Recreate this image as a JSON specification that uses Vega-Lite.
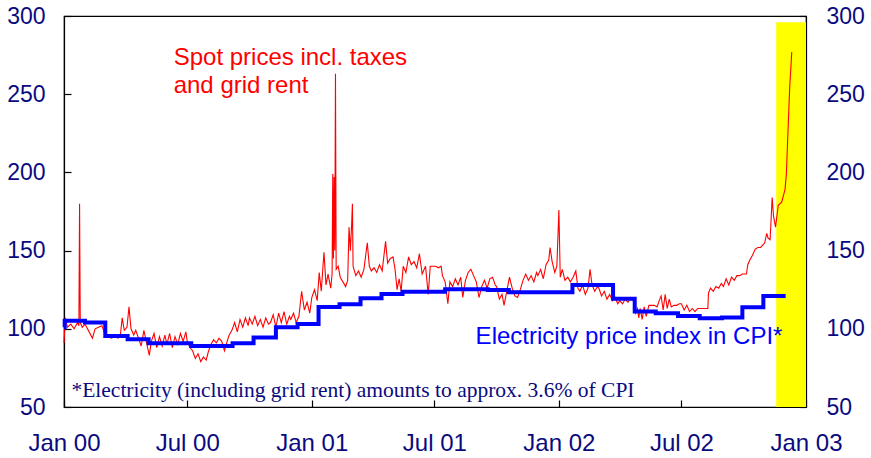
{
  "$schema": "https://vega.github.io/schema/vega-lite/v6.json",
  "width": 742,
  "height": 391,
  "autosize": {"type": "none"},
  "padding": {"left": 64, "top": 16, "right": 65, "bottom": 51},
  "background": "#ffffff",
  "config": {
    "view": {"stroke": "#000000", "strokeWidth": 1.2},
    "font": "Liberation Sans",
    "axis": {"grid": false, "title": null, "domainColor": "#000000", "tickColor": "#000000", "domainWidth": 1.2, "tickWidth": 1.2, "labelFont": "Liberation Sans", "labelFontSize": 23, "labelColor": "#0a0a80"}
  },
  "datasets": {
    "spot": [
      {"d": "2000-01-01", "v": 91}, {"d": "2000-01-03", "v": 107}, {"d": "2000-01-06", "v": 101}, {"d": "2000-01-11", "v": 103}, {"d": "2000-01-16", "v": 100}, {"d": "2000-01-21", "v": 104}, {"d": "2000-01-23", "v": 102}, {"d": "2000-01-24", "v": 180}, {"d": "2000-01-25", "v": 104}, {"d": "2000-01-28", "v": 101},
      {"d": "2000-02-01", "v": 103}, {"d": "2000-02-06", "v": 99}, {"d": "2000-02-12", "v": 94}, {"d": "2000-02-16", "v": 100}, {"d": "2000-02-21", "v": 101}, {"d": "2000-02-26", "v": 102},
      {"d": "2000-03-01", "v": 97}, {"d": "2000-03-06", "v": 95}, {"d": "2000-03-11", "v": 94}, {"d": "2000-03-16", "v": 95}, {"d": "2000-03-21", "v": 94}, {"d": "2000-03-24", "v": 95}, {"d": "2000-03-27", "v": 107}, {"d": "2000-03-30", "v": 99},
      {"d": "2000-04-03", "v": 101}, {"d": "2000-04-06", "v": 114}, {"d": "2000-04-09", "v": 100}, {"d": "2000-04-13", "v": 96}, {"d": "2000-04-16", "v": 99}, {"d": "2000-04-20", "v": 94}, {"d": "2000-04-24", "v": 89}, {"d": "2000-04-28", "v": 99},
      {"d": "2000-05-01", "v": 93}, {"d": "2000-05-06", "v": 83}, {"d": "2000-05-09", "v": 92}, {"d": "2000-05-13", "v": 97}, {"d": "2000-05-17", "v": 88}, {"d": "2000-05-21", "v": 95}, {"d": "2000-05-25", "v": 89}, {"d": "2000-05-29", "v": 96},
      {"d": "2000-06-01", "v": 90}, {"d": "2000-06-05", "v": 97}, {"d": "2000-06-09", "v": 88}, {"d": "2000-06-13", "v": 95}, {"d": "2000-06-17", "v": 90}, {"d": "2000-06-21", "v": 97}, {"d": "2000-06-25", "v": 92}, {"d": "2000-06-29", "v": 98},
      {"d": "2000-07-01", "v": 92}, {"d": "2000-07-05", "v": 88}, {"d": "2000-07-09", "v": 86}, {"d": "2000-07-13", "v": 81}, {"d": "2000-07-17", "v": 84}, {"d": "2000-07-21", "v": 79}, {"d": "2000-07-25", "v": 82}, {"d": "2000-07-29", "v": 80},
      {"d": "2000-08-01", "v": 85}, {"d": "2000-08-05", "v": 90}, {"d": "2000-08-09", "v": 93}, {"d": "2000-08-13", "v": 91}, {"d": "2000-08-17", "v": 94}, {"d": "2000-08-21", "v": 92}, {"d": "2000-08-25", "v": 86}, {"d": "2000-08-29", "v": 92},
      {"d": "2000-09-01", "v": 96}, {"d": "2000-09-05", "v": 99}, {"d": "2000-09-09", "v": 104}, {"d": "2000-09-13", "v": 98}, {"d": "2000-09-17", "v": 106}, {"d": "2000-09-21", "v": 101}, {"d": "2000-09-25", "v": 107}, {"d": "2000-09-29", "v": 102},
      {"d": "2000-10-01", "v": 107}, {"d": "2000-10-05", "v": 103}, {"d": "2000-10-09", "v": 108}, {"d": "2000-10-13", "v": 102}, {"d": "2000-10-17", "v": 106}, {"d": "2000-10-21", "v": 101}, {"d": "2000-10-25", "v": 107}, {"d": "2000-10-29", "v": 103},
      {"d": "2000-11-01", "v": 104}, {"d": "2000-11-05", "v": 109}, {"d": "2000-11-09", "v": 101}, {"d": "2000-11-13", "v": 110}, {"d": "2000-11-17", "v": 104}, {"d": "2000-11-21", "v": 111}, {"d": "2000-11-25", "v": 103}, {"d": "2000-11-29", "v": 108},
      {"d": "2000-12-01", "v": 106}, {"d": "2000-12-05", "v": 110}, {"d": "2000-12-09", "v": 104}, {"d": "2000-12-13", "v": 108}, {"d": "2000-12-17", "v": 124}, {"d": "2000-12-21", "v": 112}, {"d": "2000-12-25", "v": 117}, {"d": "2000-12-29", "v": 110},
      {"d": "2001-01-01", "v": 120}, {"d": "2001-01-05", "v": 125}, {"d": "2001-01-09", "v": 118}, {"d": "2001-01-12", "v": 136}, {"d": "2001-01-15", "v": 124}, {"d": "2001-01-19", "v": 149}, {"d": "2001-01-22", "v": 128}, {"d": "2001-01-25", "v": 135}, {"d": "2001-01-29", "v": 126}, {"d": "2001-01-31", "v": 135},
      {"d": "2001-02-01", "v": 199}, {"d": "2001-02-02", "v": 145}, {"d": "2001-02-03", "v": 197}, {"d": "2001-02-04", "v": 150}, {"d": "2001-02-05", "v": 263}, {"d": "2001-02-06", "v": 138}, {"d": "2001-02-09", "v": 140}, {"d": "2001-02-12", "v": 133}, {"d": "2001-02-16", "v": 130}, {"d": "2001-02-20", "v": 127}, {"d": "2001-02-23", "v": 131}, {"d": "2001-02-25", "v": 165}, {"d": "2001-02-27", "v": 150},
      {"d": "2001-03-01", "v": 168}, {"d": "2001-03-02", "v": 180}, {"d": "2001-03-03", "v": 140}, {"d": "2001-03-07", "v": 134}, {"d": "2001-03-11", "v": 137}, {"d": "2001-03-15", "v": 133}, {"d": "2001-03-19", "v": 138}, {"d": "2001-03-24", "v": 155}, {"d": "2001-03-27", "v": 140}, {"d": "2001-03-30", "v": 137},
      {"d": "2001-04-03", "v": 139}, {"d": "2001-04-07", "v": 136}, {"d": "2001-04-11", "v": 141}, {"d": "2001-04-15", "v": 137}, {"d": "2001-04-20", "v": 156}, {"d": "2001-04-23", "v": 142}, {"d": "2001-04-27", "v": 145},
      {"d": "2001-05-01", "v": 146}, {"d": "2001-05-04", "v": 138}, {"d": "2001-05-07", "v": 125}, {"d": "2001-05-10", "v": 132}, {"d": "2001-05-13", "v": 124}, {"d": "2001-05-16", "v": 140}, {"d": "2001-05-20", "v": 136}, {"d": "2001-05-24", "v": 146}, {"d": "2001-05-28", "v": 141},
      {"d": "2001-06-01", "v": 143}, {"d": "2001-06-05", "v": 139}, {"d": "2001-06-09", "v": 148}, {"d": "2001-06-13", "v": 135}, {"d": "2001-06-18", "v": 140}, {"d": "2001-06-22", "v": 122}, {"d": "2001-06-25", "v": 140}, {"d": "2001-06-29", "v": 140},
      {"d": "2001-07-03", "v": 140}, {"d": "2001-07-07", "v": 139}, {"d": "2001-07-11", "v": 140}, {"d": "2001-07-13", "v": 134}, {"d": "2001-07-17", "v": 130}, {"d": "2001-07-21", "v": 116}, {"d": "2001-07-24", "v": 130}, {"d": "2001-07-28", "v": 127},
      {"d": "2001-08-01", "v": 132}, {"d": "2001-08-05", "v": 128}, {"d": "2001-08-09", "v": 133}, {"d": "2001-08-12", "v": 120}, {"d": "2001-08-16", "v": 131}, {"d": "2001-08-20", "v": 136}, {"d": "2001-08-24", "v": 138}, {"d": "2001-08-28", "v": 134},
      {"d": "2001-09-01", "v": 130}, {"d": "2001-09-05", "v": 120}, {"d": "2001-09-09", "v": 127}, {"d": "2001-09-13", "v": 131}, {"d": "2001-09-17", "v": 126}, {"d": "2001-09-21", "v": 132}, {"d": "2001-09-25", "v": 133}, {"d": "2001-09-29", "v": 128},
      {"d": "2001-10-01", "v": 127}, {"d": "2001-10-05", "v": 119}, {"d": "2001-10-09", "v": 122}, {"d": "2001-10-12", "v": 115}, {"d": "2001-10-16", "v": 124}, {"d": "2001-10-20", "v": 133}, {"d": "2001-10-24", "v": 126}, {"d": "2001-10-28", "v": 121},
      {"d": "2001-11-01", "v": 120}, {"d": "2001-11-05", "v": 125}, {"d": "2001-11-09", "v": 131}, {"d": "2001-11-13", "v": 135}, {"d": "2001-11-17", "v": 131}, {"d": "2001-11-21", "v": 134}, {"d": "2001-11-25", "v": 130}, {"d": "2001-11-29", "v": 136},
      {"d": "2001-12-01", "v": 134}, {"d": "2001-12-05", "v": 138}, {"d": "2001-12-09", "v": 132}, {"d": "2001-12-13", "v": 141}, {"d": "2001-12-17", "v": 144}, {"d": "2001-12-19", "v": 152}, {"d": "2001-12-22", "v": 143}, {"d": "2001-12-26", "v": 136}, {"d": "2001-12-29", "v": 140},
      {"d": "2002-01-01", "v": 176}, {"d": "2002-01-03", "v": 133}, {"d": "2002-01-06", "v": 138}, {"d": "2002-01-10", "v": 131}, {"d": "2002-01-14", "v": 133}, {"d": "2002-01-18", "v": 130}, {"d": "2002-01-22", "v": 133}, {"d": "2002-01-26", "v": 137}, {"d": "2002-01-29", "v": 126},
      {"d": "2002-02-01", "v": 124}, {"d": "2002-02-05", "v": 128}, {"d": "2002-02-09", "v": 122}, {"d": "2002-02-13", "v": 126}, {"d": "2002-02-16", "v": 138}, {"d": "2002-02-19", "v": 128}, {"d": "2002-02-23", "v": 124}, {"d": "2002-02-27", "v": 127},
      {"d": "2002-03-01", "v": 126}, {"d": "2002-03-05", "v": 121}, {"d": "2002-03-09", "v": 124}, {"d": "2002-03-13", "v": 119}, {"d": "2002-03-17", "v": 122}, {"d": "2002-03-21", "v": 118}, {"d": "2002-03-25", "v": 120}, {"d": "2002-03-29", "v": 116},
      {"d": "2002-04-01", "v": 118}, {"d": "2002-04-05", "v": 116}, {"d": "2002-04-09", "v": 119}, {"d": "2002-04-13", "v": 117}, {"d": "2002-04-17", "v": 120}, {"d": "2002-04-21", "v": 118}, {"d": "2002-04-24", "v": 110}, {"d": "2002-04-27", "v": 113}, {"d": "2002-04-29", "v": 107},
      {"d": "2002-05-01", "v": 113}, {"d": "2002-05-04", "v": 106}, {"d": "2002-05-07", "v": 114}, {"d": "2002-05-10", "v": 108}, {"d": "2002-05-14", "v": 115}, {"d": "2002-05-18", "v": 115}, {"d": "2002-05-22", "v": 115}, {"d": "2002-05-26", "v": 114}, {"d": "2002-05-30", "v": 119},
      {"d": "2002-06-01", "v": 121}, {"d": "2002-06-04", "v": 112}, {"d": "2002-06-07", "v": 122}, {"d": "2002-06-10", "v": 113}, {"d": "2002-06-13", "v": 119}, {"d": "2002-06-16", "v": 114}, {"d": "2002-06-20", "v": 115}, {"d": "2002-06-24", "v": 115}, {"d": "2002-06-28", "v": 116},
      {"d": "2002-07-01", "v": 116}, {"d": "2002-07-05", "v": 112}, {"d": "2002-07-09", "v": 115}, {"d": "2002-07-13", "v": 111}, {"d": "2002-07-17", "v": 113}, {"d": "2002-07-21", "v": 111}, {"d": "2002-07-25", "v": 113}, {"d": "2002-07-29", "v": 113},
      {"d": "2002-08-01", "v": 113}, {"d": "2002-08-05", "v": 113}, {"d": "2002-08-09", "v": 113}, {"d": "2002-08-10", "v": 123}, {"d": "2002-08-13", "v": 126}, {"d": "2002-08-17", "v": 124}, {"d": "2002-08-21", "v": 127}, {"d": "2002-08-25", "v": 126}, {"d": "2002-08-29", "v": 129},
      {"d": "2002-09-01", "v": 127}, {"d": "2002-09-05", "v": 132}, {"d": "2002-09-09", "v": 128}, {"d": "2002-09-13", "v": 133}, {"d": "2002-09-17", "v": 131}, {"d": "2002-09-21", "v": 134}, {"d": "2002-09-25", "v": 134}, {"d": "2002-09-29", "v": 135},
      {"d": "2002-10-01", "v": 135}, {"d": "2002-10-05", "v": 135}, {"d": "2002-10-07", "v": 141}, {"d": "2002-10-10", "v": 144}, {"d": "2002-10-14", "v": 147}, {"d": "2002-10-18", "v": 151}, {"d": "2002-10-22", "v": 152}, {"d": "2002-10-26", "v": 152}, {"d": "2002-10-30", "v": 154},
      {"d": "2002-11-01", "v": 155}, {"d": "2002-11-04", "v": 161}, {"d": "2002-11-06", "v": 158}, {"d": "2002-11-09", "v": 157}, {"d": "2002-11-12", "v": 184}, {"d": "2002-11-14", "v": 172}, {"d": "2002-11-17", "v": 165}, {"d": "2002-11-21", "v": 179}, {"d": "2002-11-26", "v": 181},
      {"d": "2002-12-01", "v": 189}, {"d": "2002-12-03", "v": 199}, {"d": "2002-12-06", "v": 233}, {"d": "2002-12-08", "v": 255}, {"d": "2002-12-11", "v": 277}
    ],
    "cpi": [
      {"d": "2000-01-01", "v": 101}, {"d": "2000-01-02", "v": 105.2}, {"d": "2000-02-01", "v": 104}, {"d": "2000-03-02", "v": 95.4}, {"d": "2000-04-04", "v": 93.3}, {"d": "2000-05-05", "v": 90.7}, {"d": "2000-07-07", "v": 89}, {"d": "2000-09-06", "v": 90.7}, {"d": "2000-10-07", "v": 94.5}, {"d": "2000-11-09", "v": 101}, {"d": "2000-12-11", "v": 103},
      {"d": "2001-01-11", "v": 114}, {"d": "2001-02-11", "v": 115.7}, {"d": "2001-03-14", "v": 119.5}, {"d": "2001-04-14", "v": 122.3}, {"d": "2001-05-15", "v": 123.7}, {"d": "2001-07-17", "v": 125.3}, {"d": "2001-09-18", "v": 124.8}, {"d": "2001-10-19", "v": 123.4},
      {"d": "2002-01-21", "v": 128}, {"d": "2002-03-22", "v": 119.2}, {"d": "2002-04-23", "v": 111}, {"d": "2002-05-24", "v": 110}, {"d": "2002-06-26", "v": 108.2}, {"d": "2002-07-28", "v": 106.8}, {"d": "2002-08-30", "v": 107.3}, {"d": "2002-09-29", "v": 113.8}, {"d": "2002-10-30", "v": 121}, {"d": "2002-12-02", "v": 121}
    ],
    "band": [{"start": "2002-11-18", "end": "2003-01-01", "lo": 50, "hi": 296}],
    "redNotes": [
      {"d": "2000-06-11", "v": 268.7, "label": "Spot prices incl. taxes"},
      {"d": "2000-06-11", "v": 250.8, "label": "and grid rent"}
    ],
    "blueNotes": [{"d": "2001-08-31", "v": 90.3, "label": "Electricity price index in CPI*"}],
    "footNotes": [{"d": "2000-01-12", "v": 56.6, "label": "*Electricity (including grid rent) amounts to approx. 3.6% of CPI"}]
  },
  "layer": [
    {
      "layer": [
        {
          "data": {"name": "band"},
          "mark": {"type": "rect", "color": "#ffff00"},
          "encoding": {
            "x": {"field": "start", "type": "temporal", "scale": {"type": "utc", "domain": [{"year": 2000, "month": 1, "date": 1, "utc": true}, {"year": 2003, "month": 1, "date": 1, "utc": true}]}, "axis": {"format": "%b %y", "tickCount": {"interval": "month", "step": 6}, "tickSize": -7, "labelPadding": 31, "labelFontSize": 24, "labelFlush": false}},
            "x2": {"field": "end"},
            "y": {"field": "lo", "type": "quantitative", "scale": {"domain": [50, 300], "nice": false, "zero": false}, "axis": {"orient": "left", "values": [50, 100, 150, 200, 250, 300], "tickSize": -7, "labelPadding": 26}},
            "y2": {"field": "hi"}
          }
        },
        {
          "data": {"name": "spot"},
          "mark": {"type": "line", "color": "#ff0000", "strokeWidth": 1.1},
          "encoding": {
            "x": {"field": "d", "type": "temporal"},
            "y": {"field": "v", "type": "quantitative"}
          }
        },
        {
          "data": {"name": "cpi"},
          "mark": {"type": "line", "color": "#0000ff", "strokeWidth": 4, "interpolate": "step-after"},
          "encoding": {
            "x": {"field": "d", "type": "temporal"},
            "y": {"field": "v", "type": "quantitative"}
          }
        },
        {
          "data": {"name": "redNotes"},
          "mark": {"type": "text", "color": "#ff0000", "font": "Liberation Sans", "fontSize": 24, "align": "left", "baseline": "alphabetic"},
          "encoding": {
            "x": {"field": "d", "type": "temporal"},
            "y": {"field": "v", "type": "quantitative"},
            "text": {"field": "label"}
          }
        },
        {
          "data": {"name": "blueNotes"},
          "mark": {"type": "text", "color": "#0000ff", "font": "Liberation Sans", "fontSize": 24, "align": "left", "baseline": "alphabetic"},
          "encoding": {
            "x": {"field": "d", "type": "temporal"},
            "y": {"field": "v", "type": "quantitative"},
            "text": {"field": "label"}
          }
        },
        {
          "data": {"name": "footNotes"},
          "mark": {"type": "text", "color": "#0a0a80", "font": "Liberation Serif", "fontSize": 21.5, "align": "left", "baseline": "alphabetic"},
          "encoding": {
            "x": {"field": "d", "type": "temporal"},
            "y": {"field": "v", "type": "quantitative"},
            "text": {"field": "label"}
          }
        }
      ]
    },
    {
      "data": {"name": "band"},
      "mark": {"type": "point", "opacity": 0},
      "encoding": {
        "y": {"field": "lo", "type": "quantitative", "scale": {"domain": [50, 300], "nice": false, "zero": false}, "axis": {"orient": "right", "values": [50, 100, 150, 200, 250, 300], "tickSize": -7, "labelPadding": 27}}
      }
    }
  ],
  "resolve": {"scale": {"y": "independent"}}
}
